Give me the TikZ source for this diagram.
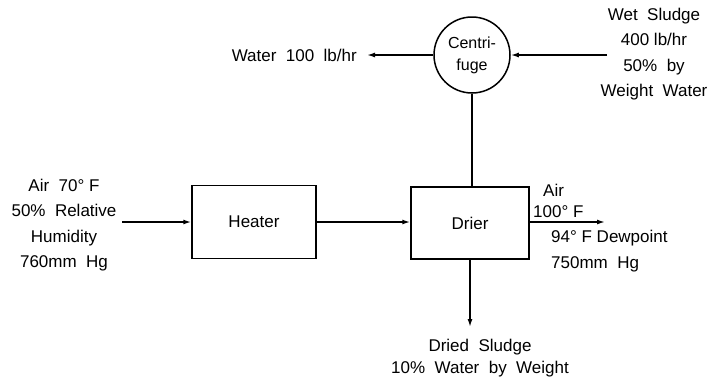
\documentclass[tikz,border=0pt]{standalone}
\usepackage{fontspec}
\setmainfont{Liberation Sans}
\usetikzlibrary{arrows.meta}
\begin{document}
\begin{tikzpicture}[x=1pt,y=-1pt,
  lbl/.style={inner sep=0pt,font=\fontsize{17}{25.5}\selectfont,align=center},
  unit/.style={draw,line width=1.5pt,font=\fontsize{17}{20}\selectfont},
  flow/.style={line width=1.5pt,-{Latex[length=8pt,width=5pt]}},
  plain/.style={line width=1.5pt}]
\useasboundingbox (0,0) rectangle (714,386);
\node[draw,circle,line width=1.5pt,minimum size=76pt,inner sep=0pt,align=center,font=\fontsize{16}{22}\selectfont] (cf) at (472,55) {Centri-\\fuge};
\node[unit,minimum width=124pt,minimum height=73pt] (heater) at (254,222) {Heater};
\node[unit,minimum width=118pt,minimum height=72pt] (drier) at (470,223) {Drier};
\coordinate (wout) at (367,55);
\coordinate (win) at (607,55);
\coordinate (ain) at (122,222);
\coordinate (aout) at (605,222);
\coordinate (dout) at (470,327);
\node[lbl,anchor=east] (water) at (357,55) {Water\ \ 100\ \ lb/hr};
\node[lbl] (wet) at (654,54) {Wet\ \ Sludge\\400 lb/hr\\50\%\ \ by\\Weight\ \ Water};
\node[lbl] (airin) at (64,225) {Air\ \ 70° F\\50\%\ \ Relative\\Humidity\\760mm\ \ Hg};
\node[lbl,anchor=west] (air1) at (543,190) {Air};
\node[lbl,anchor=west] (air2) at (533,212) {100° F};
\node[lbl,anchor=north west,align=left] (dew) at (551,230) {94° F Dewpoint\\750mm\ \ Hg};
\node[lbl,font=\fontsize{17}{21.5}\selectfont] (dried) at (480,358) {Dried\ \ Sludge\\10\%\ \ Water\ \ by\ \ Weight};
\draw[flow] (cf.west) -- (wout);
\draw[flow] (win) -- (cf.east);
\draw[plain] (cf.south) -- (cf.south |- drier.north);
\draw[flow] (ain) -- (heater.west);
\draw[flow] (heater.east) -- (drier.west |- heater.east);
\draw[flow] (drier.east |- aout) -- (aout);
\draw[flow] (drier.south) -- (dout);
\end{tikzpicture}
\end{document}
